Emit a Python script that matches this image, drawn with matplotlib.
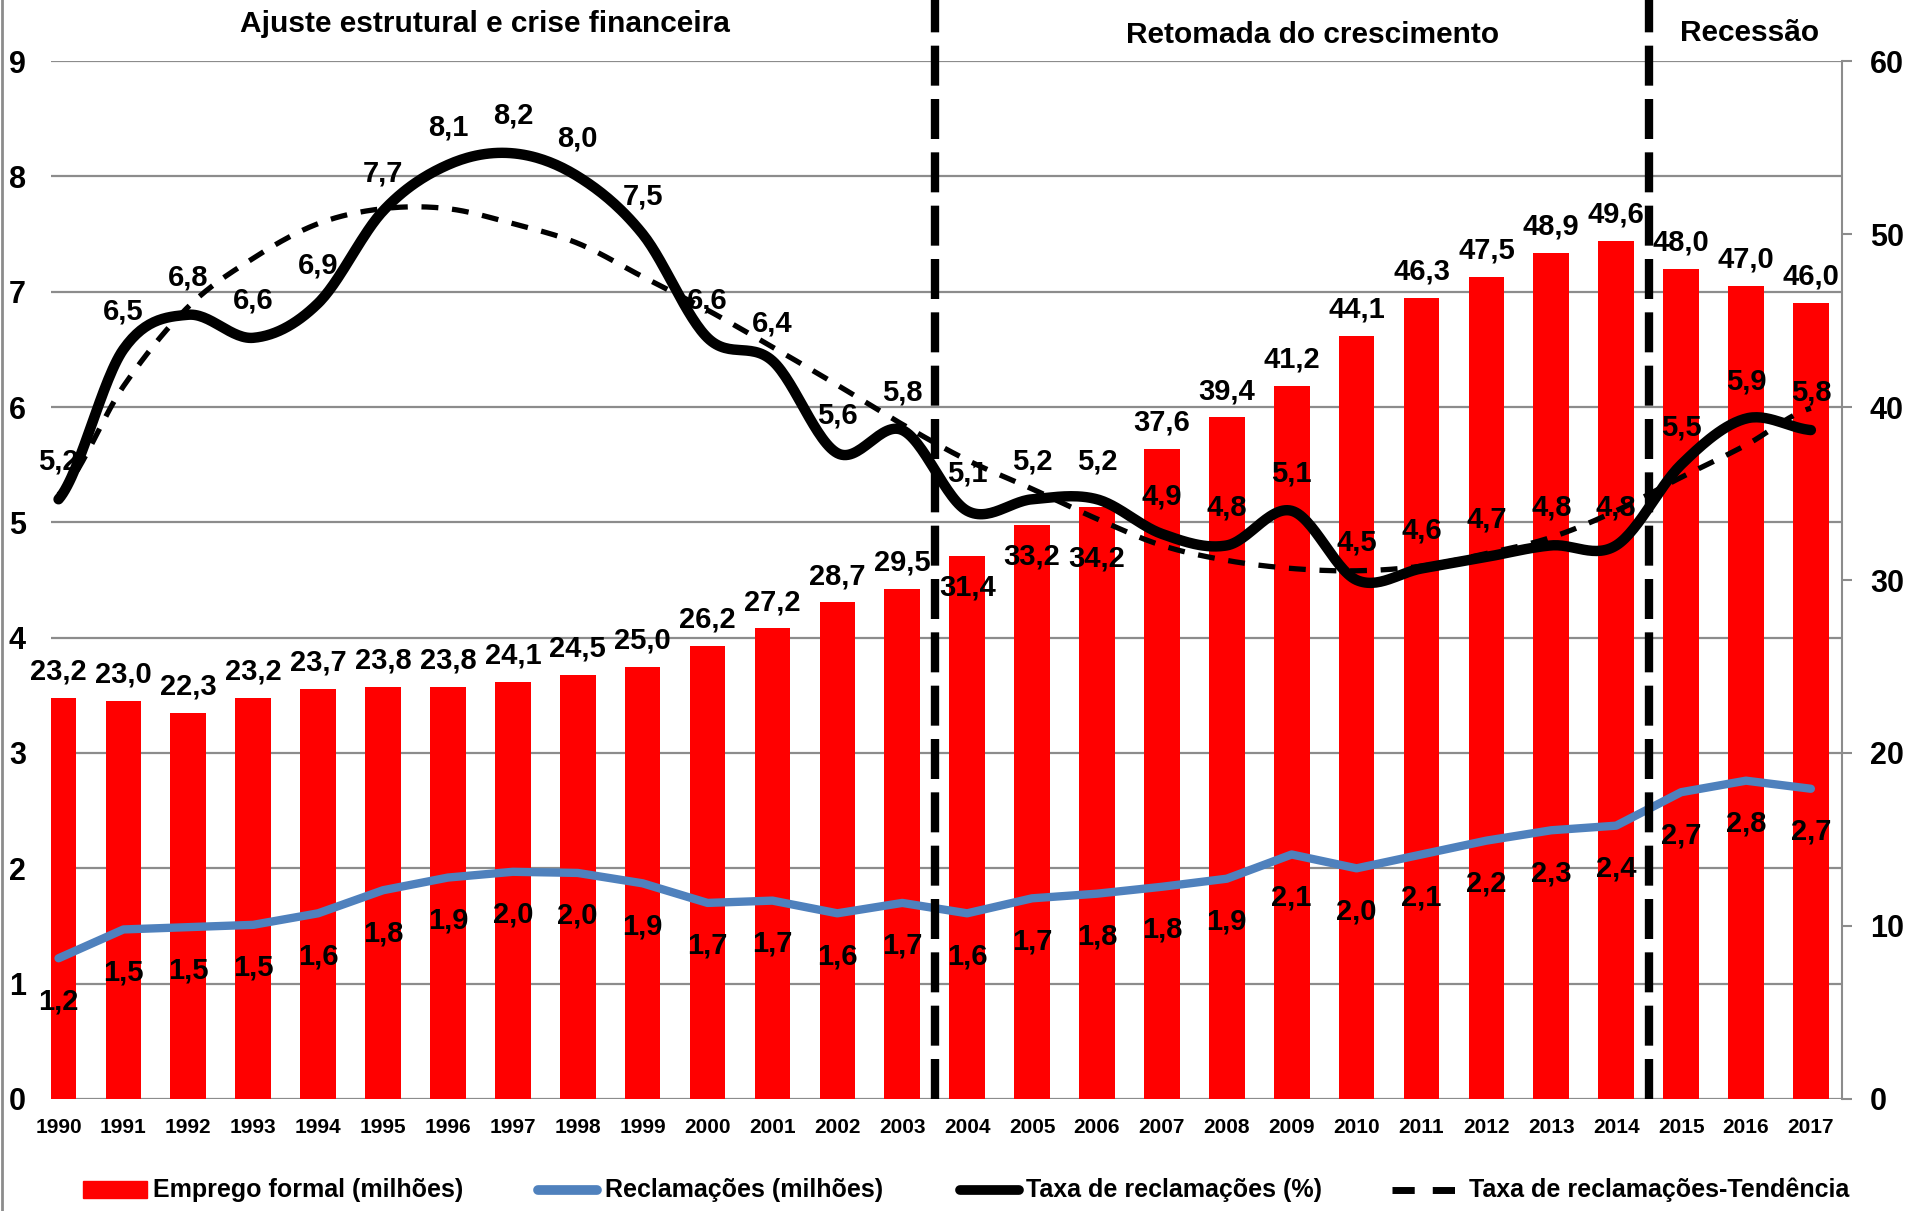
import numpy as np
import matplotlib
matplotlib.use("Agg")
import matplotlib.pyplot as plt
from matplotlib.lines import Line2D
from matplotlib.patches import Rectangle
from matplotlib import font_manager

names = {f.name for f in font_manager.fontManager.ttflist}
FONT = "Liberation Sans Narrow" if "Liberation Sans Narrow" in names else "Liberation Sans"
plt.rcParams["font.family"] = [FONT, "DejaVu Sans"]
plt.rcParams["font.weight"] = "bold"

years = list(range(1990, 2018))
emprego = [23.2, 23.0, 22.3, 23.2, 23.7, 23.8, 23.8, 24.1, 24.5, 25.0, 26.2, 27.2, 28.7, 29.5,
           31.4, 33.2, 34.2, 37.6, 39.4, 41.2, 44.1, 46.3, 47.5, 48.9, 49.6, 48.0, 47.0, 46.0]
reclamacoes = [1.22, 1.47, 1.49, 1.51, 1.61, 1.81, 1.92, 1.97, 1.96, 1.87, 1.70, 1.72, 1.61, 1.70,
               1.61, 1.74, 1.78, 1.84, 1.91, 2.12, 2.00, 2.12, 2.24, 2.33, 2.37, 2.66, 2.76, 2.69]
taxa = [5.2, 6.5, 6.8, 6.6, 6.9, 7.7, 8.1, 8.2, 8.0, 7.5, 6.6, 6.4, 5.6, 5.8,
        5.1, 5.2, 5.2, 4.9, 4.8, 5.1, 4.5, 4.6, 4.7, 4.8, 4.8, 5.5, 5.9, 5.8]
tendencia = [5.24, 6.18, 6.87, 7.29, 7.59, 7.72, 7.72, 7.59, 7.42, 7.13, 6.84, 6.52, 6.19, 5.85,
             5.54, 5.29, 5.03, 4.80, 4.67, 4.60, 4.58, 4.62, 4.73, 4.87, 5.10, 5.39, 5.67, 5.99]
periodos = ["Ajuste estrutural e crise financeira", "Retomada do crescimento", "Recessão"]
legenda = ["Emprego formal (milhões)", "Reclamações (milhões)",
           "Taxa de reclamações (%)", "Taxa de reclamações-Tendência"]

# bar labels that sit inside the bar instead of above it (points)
bar_label_dy = {2004: -23, 2005: -23, 2006: -37}


def fmt(v):
    return f"{v:.1f}".replace(".", ",")


def smooth(y, n=30):
    # Catmull-Rom smoothing, like Excel's "smoothed line"
    y = np.asarray(y, float)
    p = np.concatenate([[y[0]], y, [y[-1]]])
    xs, ys = [], []
    t = np.linspace(0, 1, n, endpoint=False)
    for i in range(len(y) - 1):
        p0, p1, p2, p3 = p[i], p[i + 1], p[i + 2], p[i + 3]
        yy = 0.5 * (2 * p1 + (-p0 + p2) * t + (2 * p0 - 5 * p1 + 4 * p2 - p3) * t ** 2
                    + (-p0 + 3 * p1 - 3 * p2 + p3) * t ** 3)
        xs.append(i + t)
        ys.append(yy)
    xs.append([len(y) - 1])
    ys.append([y[-1]])
    return np.concatenate(xs), np.concatenate(ys)


x = np.arange(len(years))
fig = plt.figure(figsize=(19.15, 12.11), dpi=100)
ax = fig.add_axes([0.0266, 0.0925, 0.9353, 0.8571])
axr = ax.twinx()
ax.set_zorder(axr.get_zorder() + 1)
ax.patch.set_visible(False)

ax.set_xlim(-0.117, 27.48)
ax.set_ylim(0, 9)
axr.set_ylim(0, 60)

grid = "#8c8c8c"
for v in range(10):
    axr.axhline(v * 60 / 9, color=grid, lw=1.6, zorder=0)

axr.bar(x, emprego, width=0.55, color="#ff0000", zorder=2)
for xi, yr, v in zip(x, years, emprego):
    dy = bar_label_dy.get(yr, 19)
    axr.annotate(fmt(v), (xi, v), xytext=(0, dy), textcoords="offset points",
                 ha="center", va="center", fontsize=21, fontweight="bold", zorder=5)

ax.plot(x, reclamacoes, color="#4f81bd", lw=6, solid_capstyle="round", zorder=3)
for xi, v in zip(x, reclamacoes):
    ax.annotate(fmt(v), (xi, v), xytext=(0, -31), textcoords="offset points",
                ha="center", va="center", fontsize=21, fontweight="bold", zorder=5)

sx, sy = smooth(tendencia)
ax.plot(sx, sy, color="black", lw=3.8, dashes=(3.2, 2.6), zorder=3)
sx, sy = smooth(taxa)
ax.plot(sx, sy, color="black", lw=7.5, solid_capstyle="round", zorder=4)
for xi, v in zip(x, taxa):
    ax.annotate(fmt(v), (xi, v), xytext=(0, 27), textcoords="offset points",
                ha="center", va="center", fontsize=21, fontweight="bold", zorder=5)

for xv in (13.5, 24.5):
    ax.axvline(xv, ymin=0, ymax=1.06, color="black", lw=6, dashes=(4.8, 1.6),
               clip_on=False, zorder=6)

ax.set_xticks(x)
ax.set_xticklabels(years, fontsize=15, fontweight="bold")
ax.set_yticks(range(10))
ax.set_yticklabels([str(v) for v in range(10)], fontsize=22, fontweight="bold")
ax.tick_params(axis="x", length=0, pad=14)
ax.tick_params(axis="y", length=0, pad=18)
axr.set_yticks(range(0, 61, 10))
axr.set_yticklabels([str(v) for v in range(0, 61, 10)], fontsize=22, fontweight="bold")
axr.tick_params(axis="y", direction="out", length=7, width=1.5, color=grid, pad=13)
for a in (ax, axr):
    for s in ("top", "left", "bottom"):
        a.spines[s].set_visible(False)
ax.spines["right"].set_visible(False)
axr.spines["right"].set_color(grid)
axr.spines["right"].set_linewidth(1.5)

# period headings
fig.text(485 / 1915, 1 - 24 / 1211, periodos[0], ha="center", va="center", fontsize=21.5, fontweight="bold")
fig.text(1313 / 1915, 1 - 35 / 1211, periodos[1], ha="center", va="center", fontsize=21.5, fontweight="bold")
fig.text(1750 / 1915, 1 - 33 / 1211, periodos[2], ha="center", va="center", fontsize=21.5, fontweight="bold")

# left border of the chart area
fig.add_artist(Line2D([2 / 1915, 2 / 1915], [0, 1], color=grid, lw=2))

# legend
ly = 1 - 1190 / 1211
fig.add_artist(Rectangle((83 / 1915, ly - 8 / 1211), 64 / 1915, 17 / 1211, color="#ff0000"))
fig.add_artist(Line2D([538 / 1915, 597 / 1915], [ly, ly], color="#4f81bd", lw=7, solid_capstyle="round"))
fig.add_artist(Line2D([960 / 1915, 1019 / 1915], [ly, ly], color="black", lw=7, solid_capstyle="round"))
fig.add_artist(Line2D([1392 / 1915, 1459 / 1915], [ly, ly], color="black", lw=5, dashes=(3.2, 2.6)))
for xt, s in zip((153, 605, 1026, 1469), legenda):
    fig.text(xt / 1915, ly, s, ha="left", va="center", fontsize=18, fontweight="bold")

fig.savefig("out.png", dpi=100)
